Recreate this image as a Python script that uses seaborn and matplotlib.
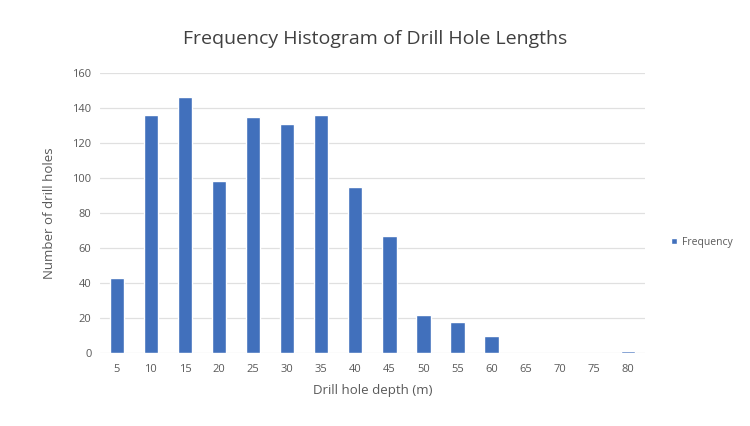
import matplotlib
matplotlib.use("Agg")
import matplotlib.pyplot as plt
import seaborn as sns
import pandas as pd

depths = ["5", "10", "15", "20", "25", "30", "35", "40", "45", "50", "55", "60", "65", "70", "75", "80"]
frequency = [43, 136, 146, 98, 135, 131, 136, 95, 67, 22, 18, 10, 0, 0, 0, 1]
y_ticks = [0, 20, 40, 60, 80, 100, 120, 140, 160]

sns.set_theme(style="white")
plt.rcParams["font.family"] = ["Open Sans", "DejaVu Sans"]

df = pd.DataFrame({"depth": depths, "Frequency": frequency})

fig = plt.figure(figsize=(7.5, 4.26), dpi=100)
ax = fig.add_axes([0.133, 0.171, 0.727, 0.658])

sns.barplot(data=df, x="depth", y="Frequency", color="#4170BC", width=0.42,
            saturation=1, ax=ax, label="Frequency", zorder=3)

ax.set_ylim(0, 160)
ax.set_yticks(y_ticks)
ax.set_yticklabels([str(v) for v in y_ticks])
ax.grid(axis="y", color="#e0e0e0", linewidth=0.9, zorder=0)
for s in ax.spines.values():
    s.set_visible(False)
ax.tick_params(axis="both", length=0, labelsize=8, colors="#595959", pad=6)
ax.tick_params(axis="x", pad=8)

ax.set_xlabel("Drill hole depth (m)", fontsize=9.5, color="#595959", labelpad=6)
ax.set_ylabel("Number of drill holes", fontsize=9.5, color="#595959", labelpad=12)
fig.suptitle("Frequency Histogram of Drill Hole Lengths", fontsize=14,
             color="#404040", y=0.93)

leg = ax.legend(loc="center left", bbox_to_anchor=(1.03, 0.396), frameon=False,
                fontsize=7.5, handlelength=0.6, handleheight=0.6, handletextpad=0.5)
for t in leg.get_texts():
    t.set_color("#595959")

fig.savefig("out.png", dpi=100, facecolor="white")
